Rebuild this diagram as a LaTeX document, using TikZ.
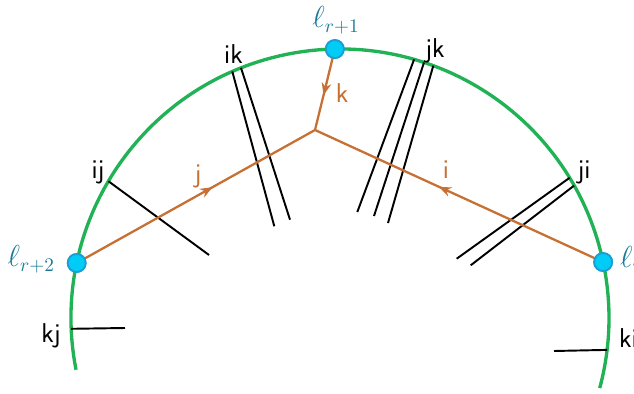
\documentclass[tikz,border=0pt]{standalone}
\usepackage{amsmath,amssymb}
\usepackage{xcolor}
\usepackage{tikz}
\usetikzlibrary{arrows,arrows.meta,calc,decorations.markings}
\definecolor{arcgreen}{RGB}{32,178,84}
\definecolor{edgeorange}{RGB}{198,112,52}
\definecolor{dotfill}{RGB}{0,204,245}
\definecolor{dotrim}{RGB}{24,158,212}
\definecolor{ellcol}{RGB}{28,122,152}

\begin{document}
\begin{tikzpicture}[x=0.02cm, y=-0.02cm,
  wall/.style={arcgreen, line width=1.9pt},
  bpt/.style={circle, draw=dotrim, fill=dotfill, line width=1pt,
              minimum size=0.36cm, inner sep=0pt},
  ell/.style={text=ellcol, font=\fontsize{16}{19}\selectfont},
  cut/.style={black, line width=1.1pt},
  lab/.style={font=\sffamily\fontsize{15.5}{18}\selectfont},
  flow/.style={edgeorange, line width=1.3pt, postaction={decorate},
               decoration={markings, mark=at position 0.57 with {\arrow{Stealth[length=7pt,width=5.5pt]}}}},
  flab/.style={font=\sffamily\fontsize{15.5}{18}\selectfont, text=edgeorange}
]
\useasboundingbox (0,0) rectangle (634,394);

\coordinate (O) at (340,318);
\draw[wall] ($(O)+(168.9:269)$) arc[start angle=168.9, end angle=375.1, radius=269];

% cut lines
\coordinate (ij1) at (108.5,181.3);  \coordinate (ij2) at (209,255);
\coordinate (ika) at (232.3,71.5);   \coordinate (ika2) at (274.3,226.3);
\coordinate (ikb) at (241,67.9);     \coordinate (ikb2) at (290,219.7);
\coordinate (jka) at (414.1,59.4);   \coordinate (jka2) at (357.3,212);
\coordinate (jkb) at (424,62.5);     \coordinate (jkb2) at (374,216);
\coordinate (jkc) at (433.3,65.7);   \coordinate (jkc2) at (388,223);
\coordinate (jia) at (569.6,177.8);  \coordinate (jia2) at (456.7,258.7);
\coordinate (jib) at (574.1,185.6);  \coordinate (jib2) at (470.7,265.3);
\coordinate (kj1) at (71.2,328.8);   \coordinate (kj2) at (125,328);
\coordinate (ki1) at (607.1,349.9);  \coordinate (ki2) at (554,351);

\draw[cut] (ij1) -- (ij2);
\draw[cut] (ika) -- (ika2);
\draw[cut] (ikb) -- (ikb2);
\draw[cut] (jka) -- (jka2);
\draw[cut] (jkb) -- (jkb2);
\draw[cut] (jkc) -- (jkc2);
\draw[cut] (jia) -- (jia2);
\draw[cut] (jib) -- (jib2);
\draw[cut] (kj1) -- (kj2);
\draw[cut] (ki1) -- (ki2);

\node[lab] (labij) at (98,172) {ij};
\node[lab] (labik) at (233.5,54) {ik};
\node[lab] (labjk) at (435,51) {jk};
\node[lab] (labji) at (584,172) {ji};
\node[lab] (labkj) at (51,336) {kj};
\node[lab, anchor=west] (labki) at (613,338) {ki};

% tree
\coordinate (v) at (315,130);
\node[bpt] (lr2) at ($(O)+(191.8:269)$) {};
\node[bpt] (lr1) at ($(O)+(268.9:269)$) {};
\node[bpt] (lr0) at ($(O)+(348:269)$) {};

\draw[flow] (lr2.center) -- (v);
\draw[flow] (lr1.center) -- (v);
\draw[flow] (lr0.center) -- (v);
\node[bpt] at (lr2) {};
\node[bpt] at (lr1) {};
\node[bpt] at (lr0) {};

\node[flab] (labj) at (198,176) {j};
\node[flab] (labk) at (342,93) {k};
\node[flab] (labi) at (446,170) {i};

\node[ell] (elltop) at (336,20) {$\ell_{r+1}$};
\node[ell, anchor=east] (ellleft) at (61,259) {$\ell_{r+2}$};
\node[ell, anchor=west] (ellright) at (614,259) {$\ell_{r}$};
\end{tikzpicture}
\end{document}
